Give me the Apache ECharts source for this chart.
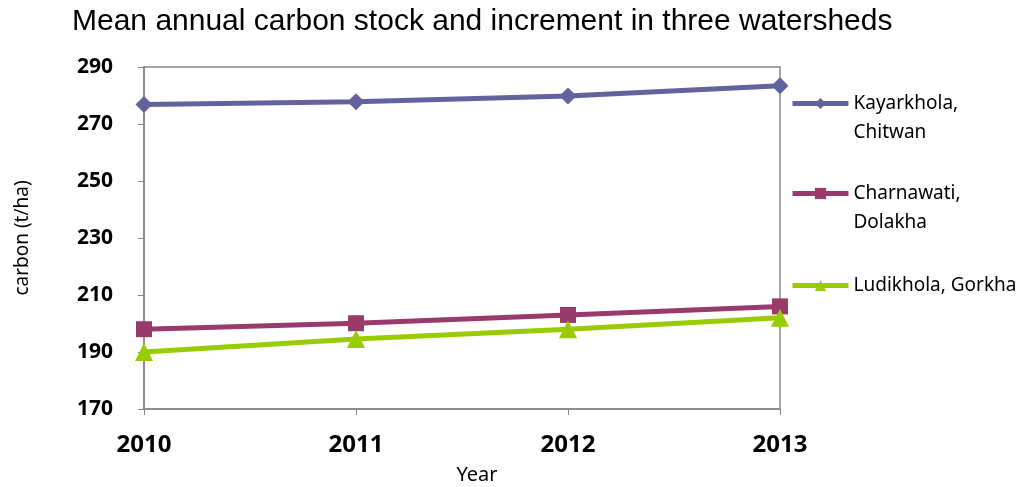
<!DOCTYPE html>
<html>
<head>
<meta charset="utf-8">
<script src="https://cdn.jsdelivr.net/npm/echarts@6/dist/echarts.min.js"></script>
<style>
  html, body { margin: 0; padding: 0; background: #fff; }
  #chart { width: 1024px; height: 487px; }
</style>
</head>
<body>
<div id="chart"></div>
<script>
const years = ["2010", "2011", "2012", "2013"];
const kayarkhola = [276.8, 277.8, 279.8, 283.4];
const charnawati = [198.0, 200.1, 203.0, 206.0];
const ludikhola = [190.0, 194.6, 198.0, 202.0];
const yTicks = { min: 170, max: 290, step: 20 };

const names = ["Kayarkhola,\nChitwan", "Charnawati,\nDolakha", "Ludikhola, Gorkha"];
const colors = ["#62629c", "#983b6b", "#99cc00"];

const chart = echarts.init(document.getElementById("chart"));

function legendAt(name, top) {
  return {
    data: [name],
    left: 785,
    top: top,
    orient: "vertical",
    itemWidth: 56,
    itemHeight: 14,
    itemGap: 0,
    lineStyle: { width: 5 },
    // blank leading line keeps the icon level with the first text line
    formatter: (n) => (n.indexOf("\n") >= 0 ? "\n" + n : n),
    textStyle: { fontFamily: "Noto Sans", fontSize: 19, color: "#000", lineHeight: 29 },
  };
}

chart.setOption({
  animation: false,
  title: {
    text: "Mean annual carbon stock and increment in three watersheds",
    left: 67,
    top: 2,
    textStyle: { fontFamily: "Liberation Sans", fontWeight: "normal", fontSize: 30, color: "#000" },
  },
  legend: [legendAt(names[0], 55), legendAt(names[1], 145), legendAt(names[2], 266)],
  grid: {
    left: 144,
    right: 244,
    top: 67,
    bottom: 78,
    outerBoundsMode: "none",
    show: true,
    borderColor: "#868686",
    borderWidth: 1.5,
  },
  xAxis: {
    type: "category",
    data: years,
    boundaryGap: false,
    name: "Year",
    nameLocation: "middle",
    nameGap: 56,
    nameTextStyle: { fontFamily: "Noto Sans", fontSize: 20, color: "#000", padding: [0, 0, 0, 30] },
    axisLine: { lineStyle: { color: "#868686", width: 1.5 } },
    axisTick: { show: true, length: 6, lineStyle: { color: "#868686" } },
    axisLabel: {
      margin: 24,
      fontFamily: "Noto Sans",
      fontWeight: "bold",
      fontSize: 24,
      color: "#000",
    },
    splitLine: { show: false },
  },
  yAxis: {
    type: "value",
    min: yTicks.min,
    max: yTicks.max,
    interval: yTicks.step,
    name: "carbon (t/ha)",
    nameLocation: "middle",
    nameRotate: 90,
    nameGap: 112,
    nameTextStyle: { fontFamily: "Noto Sans", fontSize: 19, color: "#000" },
    axisLine: { show: true, lineStyle: { color: "#868686", width: 1.5 } },
    axisTick: { show: true, length: 6, lineStyle: { color: "#868686" } },
    axisLabel: {
      margin: 31,
      fontFamily: "Noto Sans",
      fontWeight: "bold",
      fontSize: 21,
      color: "#000",
    },
    splitLine: { show: false },
  },
  series: [
    {
      name: names[0],
      type: "line",
      data: kayarkhola,
      symbol: "diamond",
      symbolSize: 17,
      lineStyle: { width: 5, color: colors[0] },
      itemStyle: { color: colors[0] },
    },
    {
      name: names[1],
      type: "line",
      data: charnawati,
      symbol: "rect",
      symbolSize: 16,
      lineStyle: { width: 5, color: colors[1] },
      itemStyle: { color: colors[1] },
    },
    {
      name: names[2],
      type: "line",
      data: ludikhola,
      symbol: "triangle",
      symbolSize: 18,
      lineStyle: { width: 5, color: colors[2] },
      itemStyle: { color: colors[2] },
    },
  ],
});

window.addEventListener("resize", () => chart.resize());
</script>
</body>
</html>
